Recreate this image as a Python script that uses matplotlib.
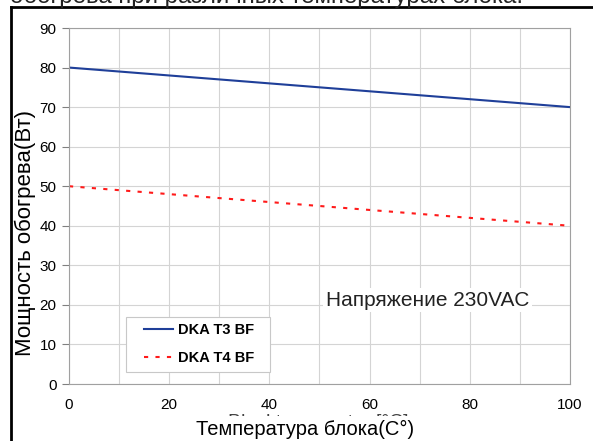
import matplotlib
matplotlib.use('Agg')
import matplotlib.pyplot as plt
from matplotlib.lines import Line2D
from matplotlib.patches import Rectangle

plt.rcParams['font.family'] = ['Liberation Sans', 'DejaVu Sans']

# данные
temp = [0, 10, 20, 30, 40, 50, 60, 70, 80, 90, 100]
dka_t3 = [80, 79, 78, 77, 76, 75, 74, 73, 72, 71, 70]
dka_t4 = [50, 49, 48, 47, 46, 45, 44, 43, 42, 41, 40]
x_ticks = [0, 20, 40, 60, 80, 100]
y_ticks = [0, 10, 20, 30, 40, 50, 60, 70, 80, 90]

fig = plt.figure(figsize=(5.93, 4.41), dpi=100)
ax = fig.add_axes([69 / 593, 1 - 384 / 441, 501 / 593, 356 / 441])

ax.plot(temp, dka_t3, color='#1f3f99', lw=1.5, label='DKA T3 BF')
ax.plot(temp, dka_t4, color='#ff1a1a', lw=1.5, linestyle=(0, (2, 3.5)), label='DKA T4 BF')

ax.set_xlim(0, 100)
ax.set_ylim(0, 90)
ax.set_xticks(x_ticks)
ax.set_yticks(y_ticks)
ax.set_xticks(range(0, 101, 10), minor=True)
ax.grid(True, which='both', color='#d4d4d4', lw=0.8)
ax.set_axisbelow(True)
for s in ax.spines.values():
    s.set_color('#a0a0a0')
    s.set_linewidth(0.8)
ax.tick_params(axis='y', which='major', length=5, color='#808080', labelsize=11, pad=4)
ax.tick_params(axis='x', which='both', length=0, labelsize=11, pad=10)

# подписи осей
fig.text(25 / 593, 1 - 233 / 441, 'Мощность обогрева(Вт)', rotation=90, ha='center',
         va='center', fontsize=16)
# старая подпись под русской
fig.text(318 / 593, 1 - 414 / 441, 'Blocktemperatur [°C]', ha='center', va='top',
         fontsize=14, color='#444444')
fig.text(305 / 593, 1 - 429 / 441, 'Температура блока(C°)', ha='center', va='center',
         fontsize=14.5, bbox=dict(facecolor='white', edgecolor='none', pad=2.5))

ax.text(51.3, 21.2, 'Напряжение 230VAC', fontsize=15, va='center', ha='left',
        color='#222222', bbox=dict(facecolor='white', edgecolor='none', pad=2))

# легенда
ax.add_patch(Rectangle((0.1138, 0.0337), 0.2874, 0.1545, transform=ax.transAxes,
                       facecolor='white', edgecolor='#c8c8c8', lw=0.8, zorder=4))
leg = ax.legend(loc='upper left', bbox_to_anchor=(0.1497, 0.172), frameon=False,
                prop={'weight': 'bold', 'size': 10.5}, borderpad=0, borderaxespad=0,
                handlelength=2.0, handletextpad=0.35, labelspacing=0.95)
leg.set_zorder(5)

# рамка
fig.add_artist(Line2D([11 / 593, 11 / 593], [0, 1 - 7 / 441], color='black', lw=2))
fig.add_artist(Line2D([11 / 593, 1], [1 - 7 / 441, 1 - 7 / 441], color='black', lw=2))

# обрезанный заголовок сверху
fig.text(10 / 593, 1 - 3 / 441, 'обогрева при различных температурах блока.', fontsize=17.3,
         va='baseline', ha='left', color='#222222')

fig.savefig('out.png', dpi=100)
